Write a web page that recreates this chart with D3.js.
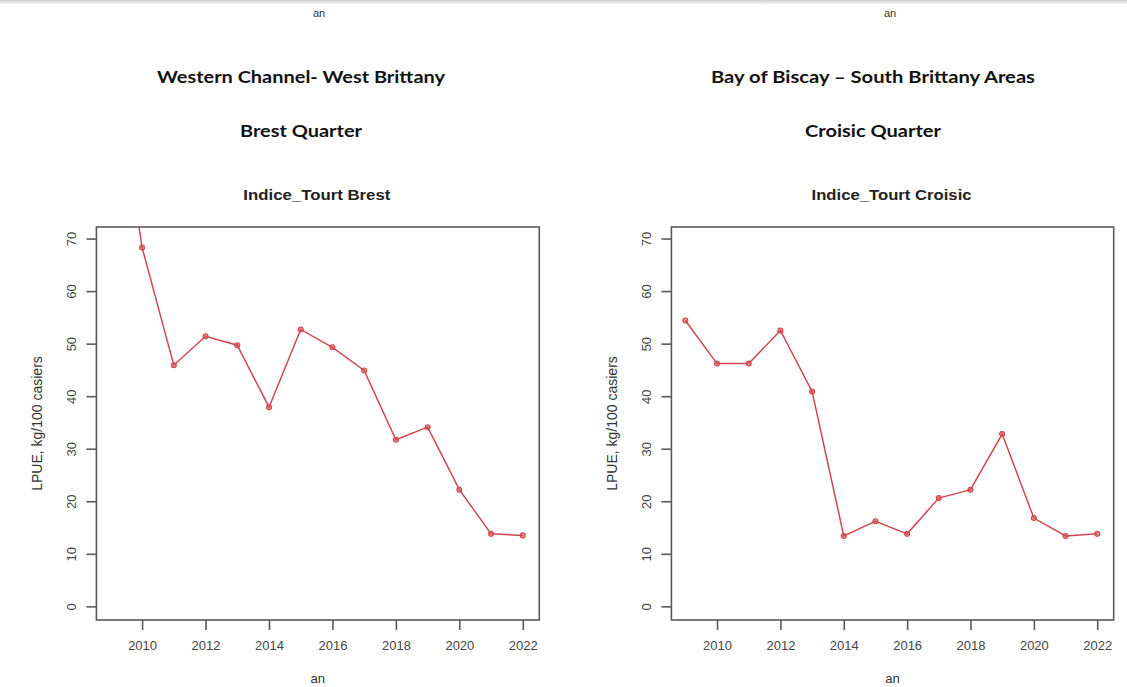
<!DOCTYPE html>
<html>
<head>
<meta charset="utf-8">
<script src="https://cdn.jsdelivr.net/npm/d3@7"></script>
<style>
  html, body { margin: 0; padding: 0; background: #fff; }
  svg { display: block; }
</style>
</head>
<body>
<svg id="chart" width="1127" height="687"></svg>
<script>
// ---- data ----
const years = [2009, 2010, 2011, 2012, 2013, 2014, 2015, 2016, 2017, 2018, 2019, 2020, 2021, 2022];
const brestValues = [109, 68.3, 45.9, 51.4, 49.7, 37.9, 52.7, 49.3, 44.9, 31.7, 34.1, 22.2, 13.8, 13.5];
const croisicValues = [54.4, 46.2, 46.2, 52.5, 40.9, 13.4, 16.2, 13.8, 20.6, 22.2, 32.8, 16.8, 13.4, 13.8];
const xTicks = [2010, 2012, 2014, 2016, 2018, 2020, 2022];
const yTicks = [0, 10, 20, 30, 40, 50, 60, 70];
const regionTitles = ["Western Channel- West Brittany", "Bay of Biscay \u2013 South Brittany Areas"];
const quarterTitles = ["Brest Quarter", "Croisic Quarter"];
const plotTitles = ["Indice_Tourt Brest", "Indice_Tourt Croisic"];
const xLabel = "an";
const yLabel = "LPUE, kg/100 casiers";

const svg = d3.select("#chart");

// top shadow strip
const defs = svg.append("defs");
const g0 = defs.append("linearGradient").attr("id", "topShade").attr("x1", 0).attr("y1", 0).attr("x2", 0).attr("y2", 1);
g0.append("stop").attr("offset", "0%").attr("stop-color", "#cfcfcf");
g0.append("stop").attr("offset", "100%").attr("stop-color", "#ffffff");
svg.append("rect").attr("x", 0).attr("y", 0).attr("width", 1127).attr("height", 5).attr("fill", "url(#topShade)");

const panels = [
  { values: brestValues, left: 96.4, right: 539.3, headerCx: 301, headerW: 288, subW: 122, titleW: 147, topAn: 319 },
  { values: croisicValues, left: 671.4, right: 1113.7, headerCx: 873, headerW: 324, subW: 136, titleW: 160, topAn: 890 }
];
const plotTop = 227, plotBottom = 620;
const lineColor = "#d0474f";
const axisColor = "#5a5a5a";
const tickTextColor = "#444";
const sansFont = "Liberation Sans, Arial, sans-serif";

panels.forEach((p, i) => {
  const g = svg.append("g");
  const x = d3.scaleLinear().domain([2008.56, 2022.52]).range([p.left, p.right]);
  const y = d3.scaleLinear().domain([-2.6, 72.2]).range([plotBottom, plotTop]);
  const cx = (p.left + p.right) / 2;

  // stray top label
  g.append("text").attr("x", p.topAn).attr("y", 17).attr("text-anchor", "middle")
    .attr("font-family", sansFont).attr("font-size", 11).attr("fill", "#333").text(xLabel);

  // headers
  g.append("text").attr("x", p.headerCx).attr("y", 83).attr("text-anchor", "middle")
    .attr("font-family", "Lato, 'Open Sans', sans-serif").attr("font-weight", "bold").attr("font-size", 17)
    .attr("textLength", p.headerW).attr("lengthAdjust", "spacingAndGlyphs")
    .attr("fill", "#111").text(regionTitles[i]);
  g.append("text").attr("x", p.headerCx).attr("y", 136.5).attr("text-anchor", "middle")
    .attr("font-family", "Lato, 'Open Sans', sans-serif").attr("font-weight", "bold").attr("font-size", 17)
    .attr("textLength", p.subW).attr("lengthAdjust", "spacingAndGlyphs")
    .attr("fill", "#111").text(quarterTitles[i]);

  // plot title
  g.append("text").attr("x", cx - 1).attr("y", 200).attr("text-anchor", "middle")
    .attr("font-family", sansFont).attr("font-weight", "bold").attr("font-size", 15)
    .attr("textLength", p.titleW).attr("lengthAdjust", "spacingAndGlyphs")
    .attr("fill", "#222").text(plotTitles[i]);

  // clip
  const clipId = "clip" + i;
  defs.append("clipPath").attr("id", clipId).append("rect")
    .attr("x", p.left).attr("y", plotTop).attr("width", p.right - p.left).attr("height", plotBottom - plotTop);

  // line + points
  const pts = years.map((yr, k) => ({ yr, v: p.values[k] }));
  const line = d3.line().x(d => x(d.yr)).y(d => y(d.v));
  const pg = g.append("g").attr("clip-path", `url(#${clipId})`);
  pg.append("path").datum(pts).attr("d", line).attr("fill", "none")
    .attr("stroke", lineColor).attr("stroke-width", 1.5);
  pg.selectAll("circle").data(pts).join("circle")
    .attr("cx", d => x(d.yr)).attr("cy", d => y(d.v)).attr("r", 2.5)
    .attr("fill", lineColor).attr("fill-opacity", 0.6).attr("stroke", lineColor).attr("stroke-width", 1.1);

  // box
  g.append("rect").attr("x", p.left).attr("y", plotTop).attr("width", p.right - p.left).attr("height", plotBottom - plotTop)
    .attr("fill", "none").attr("stroke", axisColor).attr("stroke-width", 1.6);

  // x axis
  const xa = g.append("g").attr("transform", `translate(0,${plotBottom})`)
    .call(d3.axisBottom(x).tickValues(xTicks).tickFormat(d3.format("d")).tickSize(10).tickSizeOuter(0).tickPadding(11));
  xa.select(".domain").remove();
  xa.selectAll(".tick line").attr("stroke", axisColor).attr("stroke-width", 1.6);
  xa.selectAll(".tick text").attr("font-family", sansFont).attr("font-size", 13)
    .attr("fill", tickTextColor);

  // y axis
  const ya = g.append("g").attr("transform", `translate(${p.left},0)`)
    .call(d3.axisLeft(y).tickValues(yTicks).tickSize(10).tickSizeOuter(0));
  ya.select(".domain").remove();
  ya.selectAll(".tick line").attr("stroke", axisColor).attr("stroke-width", 1.6);
  ya.selectAll(".tick text").attr("x", null).attr("dy", null).attr("text-anchor", "middle")
    .attr("transform", "translate(-20,0) rotate(-90)")
    .attr("font-family", sansFont).attr("font-size", 13).attr("fill", tickTextColor);

  // axis labels
  g.append("text").attr("x", cx).attr("y", 683).attr("text-anchor", "middle")
    .attr("font-family", sansFont).attr("font-size", 13).attr("fill", "#333").text(xLabel);
  g.append("text").attr("transform", `translate(${p.left - 54},${(plotTop + plotBottom) / 2}) rotate(-90)`)
    .attr("text-anchor", "middle").attr("font-family", sansFont).attr("font-size", 14)
    .attr("fill", "#333").text(yLabel);
});
</script>
</body>
</html>
